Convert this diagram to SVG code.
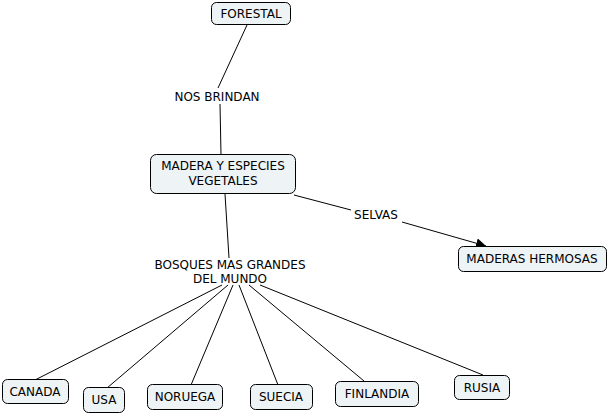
<svg xmlns="http://www.w3.org/2000/svg" width="608" height="414" viewBox="0 0 608 414">
<defs>
<style>
.n rect{fill:#eef3f6;stroke:#000;stroke-width:1}
text{font-family:"DejaVu Sans",Verdana,sans-serif;font-size:12px;fill:#000;text-anchor:middle}
.c line{stroke:#000;stroke-width:1}
</style>
<marker id="ah" viewBox="0 0 10 10" refX="10" refY="5" markerWidth="10" markerHeight="10" markerUnits="userSpaceOnUse" orient="auto">
<path d="M0,0 L10,5 L0,10 z" fill="#000"/>
</marker>
</defs>
<rect width="608" height="414" fill="#fff"/>
<g class="c">
<line x1="247" y1="25" x2="218" y2="88"/>
<line x1="220" y1="104" x2="221" y2="155"/>
<line x1="294" y1="195" x2="351" y2="210"/>
<line x1="402" y1="222" x2="486" y2="246" marker-end="url(#ah)"/>
<line x1="225" y1="194" x2="229" y2="258"/>
<line x1="222" y1="285" x2="35" y2="380"/>
<line x1="228" y1="285" x2="107" y2="388"/>
<line x1="233" y1="285" x2="191" y2="385"/>
<line x1="239" y1="285" x2="278" y2="385"/>
<line x1="249" y1="285" x2="364" y2="381"/>
<line x1="260" y1="285" x2="483" y2="375" stroke-width="1.5"/>
</g>
<g id="forestal" class="n"><rect x="211.5" y="2.5" width="79" height="22" rx="5"/><text x="251" y="18">FORESTAL</text></g>
<g id="nos-brindan"><text x="217" y="101">NOS BRINDAN</text></g>
<g id="madera" class="n"><rect x="150.5" y="154.5" width="145" height="39" rx="6"/><text x="223" y="170">MADERA Y ESPECIES</text><text x="223" y="185">VEGETALES</text></g>
<g id="selvas"><text x="376" y="219">SELVAS</text></g>
<g id="maderas-hermosas" class="n"><rect x="458.5" y="246.5" width="148" height="25" rx="5"/><text x="532" y="263">MADERAS HERMOSAS</text></g>
<g id="bosques"><text x="230" y="269">BOSQUES MAS GRANDES</text><text x="230" y="283">DEL MUNDO</text></g>
<g id="canada" class="n"><rect x="2.5" y="379.5" width="66" height="24" rx="5"/><text x="35" y="396">CANADA</text></g>
<g id="usa" class="n"><rect x="83.5" y="387.5" width="41" height="25" rx="5"/><text x="104" y="404">USA</text></g>
<g id="noruega" class="n"><rect x="147.5" y="384.5" width="75" height="25" rx="5"/><text x="185" y="401">NORUEGA</text></g>
<g id="suecia" class="n"><rect x="250.5" y="384.5" width="62" height="25" rx="5"/><text x="281" y="401">SUECIA</text></g>
<g id="finlandia" class="n"><rect x="335.5" y="381.5" width="83" height="25" rx="5"/><text x="377" y="398">FINLANDIA</text></g>
<g id="rusia" class="n"><rect x="454.5" y="375.5" width="55" height="24" rx="5"/><text x="482" y="392">RUSIA</text></g>
</svg>
